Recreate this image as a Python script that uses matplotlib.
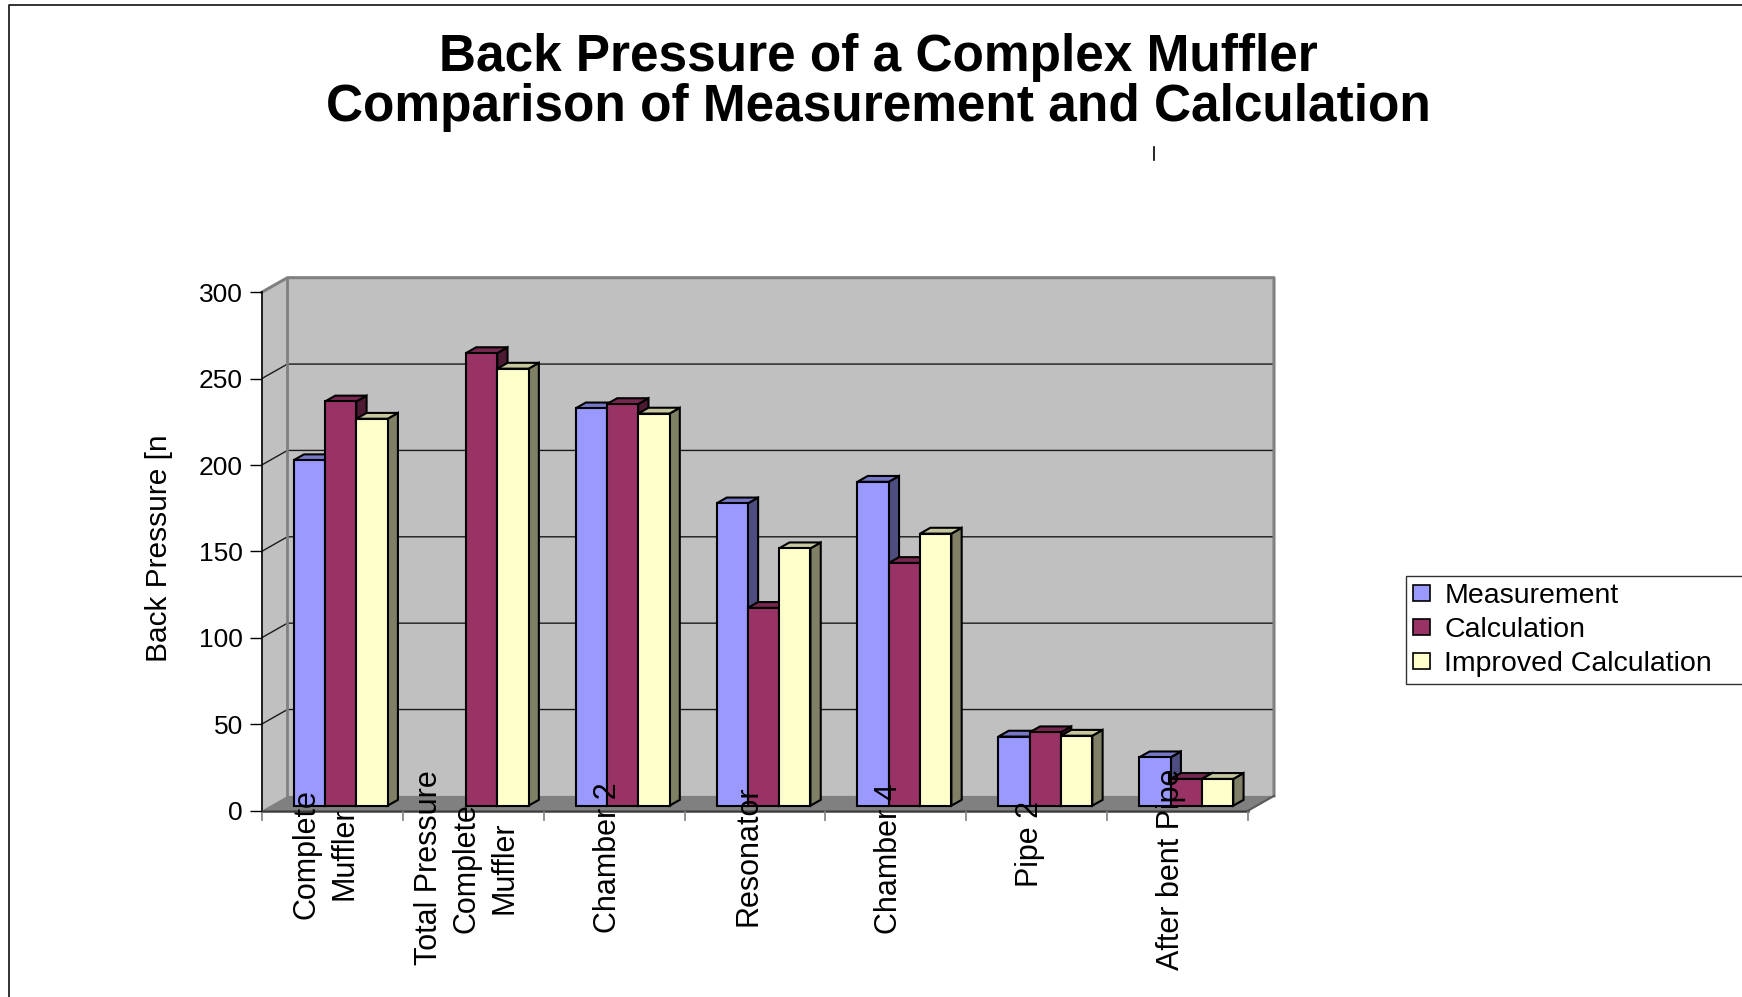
import numpy as np
import matplotlib
matplotlib.use("Agg")
import matplotlib.pyplot as plt
from matplotlib.patches import Polygon, Patch
from matplotlib.lines import Line2D
import matplotlib.transforms as mtransforms
import matplotlib.colors as mcolors

# ---- data -------------------------------------------------------------
categories = ["Complete\nMuffler", "Total Pressure\nComplete\nMuffler", "Chamber 2",
              "Resonator", "Chamber 4", "Pipe 2", "After bent Pipe"]
measurement = [200, np.nan, 230, 175, 187.5, 40, 28]
calculation = [234, 262, 232.5, 114.5, 140.5, 42.5, 15.5]
improved = [224, 253, 227, 149, 157.5, 40.5, 15.5]
series_names = ["Measurement", "Calculation", "Improved Calculation"]
y_ticks = [0, 50, 100, 150, 200, 250, 300]
title_lines = ["Back Pressure of a Complex Muffler",
               "Comparison of Measurement and Calculation"]
y_label = "Back Pressure [n"

# ---- figure / axes ----------------------------------------------------
W, H, DPI = 1742, 997, 100
plt.rcParams['font.family'] = ['Liberation Sans', 'DejaVu Sans']

fig = plt.figure(figsize=(W / DPI, H / DPI), dpi=DPI)
fig.patch.set_facecolor('white')

# front plane of the plot box, in pixels (y measured from the top)
x0px, x1px = 261.7, 1248.3
y0px, y1px = 810.5, 292.3
ax = fig.add_axes([x0px / W, 1 - y0px / H, (x1px - x0px) / W, (y0px - y1px) / H])
n = len(categories)
ymax = y_ticks[-1]
ax.set_xlim(0, n)
ax.set_ylim(0, ymax)
ax.patch.set_visible(False)

cat_px = (x1px - x0px) / n
val_px = (y0px - y1px) / ymax
# oblique depth offset of the back wall, in data units
DX = 25.7 / cat_px
DY = 14.6 / val_px

wall_c, floor_c, wall_edge = '#C0C0C0', '#808080', '#808080'

# walls and floor
ax.add_patch(Polygon([(DX, DY), (n + DX, DY), (n + DX, ymax + DY), (DX, ymax + DY)],
                     closed=True, fc=wall_c, ec='none', zorder=0.1, clip_on=False))
ax.add_patch(Polygon([(0, 0), (DX, DY), (DX, ymax + DY), (0, ymax)],
                     closed=True, fc=wall_c, ec='none', zorder=0.1, clip_on=False))
ax.add_patch(Polygon([(0, 0), (n, 0), (n + DX, DY), (DX, DY)],
                     closed=True, fc=floor_c, ec='none', zorder=0.2, clip_on=False))

# gridlines running over the side wall and the back wall
for yv in y_ticks[1:-1]:
    ax.plot([0, DX, n + DX], [yv, yv + DY, yv + DY], color='#1a1a1a', lw=1.0,
            zorder=0.3, clip_on=False, solid_capstyle='butt')

# wall outlines
ax.plot([0, DX, n + DX, n + DX], [ymax, ymax + DY, ymax + DY, DY],
        color=wall_edge, lw=2.2, zorder=0.35, clip_on=False)
ax.plot([DX, DX], [DY, ymax + DY], color=wall_edge, lw=2.0, zorder=0.35, clip_on=False)
ax.plot([n, n + DX], [0, DY], color='#5a5a5a', lw=1.5, zorder=0.35, clip_on=False)

# ---- 3-D columns --------------------------------------------------------
series = [measurement, calculation, improved]
face_colors = ['#9999FF', '#993366', '#FFFFCC']
top_k, side_k = 0.78, 0.5


def shade(c, k):
    return tuple(np.array(mcolors.to_rgb(c)) * k)


w = 1 / 4.5          # column width (gap width 150 %)
gap = 0.75 * w
f_front = 0.33       # depth position of the column fronts
f_depth = 0.40       # column depth
ex, ey = f_depth * DX, f_depth * DY
yb = f_front * DY
z = 1.0
for i in range(n):
    for j, vals in enumerate(series):
        v = vals[i]
        if np.isnan(v):
            continue
        xl = i + gap + j * w + f_front * DX
        xr = xl + w
        yt = v + yb
        ax.add_patch(Polygon([(xr, yb), (xr + ex, yb + ey), (xr + ex, yt + ey), (xr, yt)],
                             closed=True, fc=shade(face_colors[j], side_k), ec='black',
                             lw=1.5, joinstyle='miter', zorder=z, clip_on=False))
        ax.add_patch(Polygon([(xl, yt), (xr, yt), (xr + ex, yt + ey), (xl + ex, yt + ey)],
                             closed=True, fc=shade(face_colors[j], top_k), ec='black',
                             lw=1.5, joinstyle='miter', zorder=z + 0.01, clip_on=False))
        ax.bar(xl, v, width=w, bottom=yb, align='edge', color=face_colors[j],
               edgecolor='black', linewidth=1.5, zorder=z + 0.02, clip_on=False)
        z += 0.1

# ---- axes styling -------------------------------------------------------
for s in ('top', 'right'):
    ax.spines[s].set_visible(False)
ax.spines['left'].set_color('black')
ax.spines['left'].set_linewidth(1.2)
ax.spines['left'].set_zorder(0.4)
ax.spines['bottom'].set_color('#3c3c3c')
ax.spines['bottom'].set_linewidth(1.8)
ax.spines['bottom'].set_zorder(0.4)

ax.set_yticks(y_ticks)
ax.set_yticklabels([str(t) for t in y_ticks])
ax.tick_params(axis='y', direction='out', length=8.6, width=1.0, color='black',
               labelsize=19, pad=5)
ax.set_xticks(np.arange(n + 1))
ax.set_xticklabels([])
ax.tick_params(axis='x', direction='out', length=7, width=1.2, color='#808080')

ax.set_ylabel(y_label, fontsize=21.5, va='center')
ax.yaxis.set_label_coords((159 - x0px) / (x1px - x0px), (y0px - 548) / (y0px - y1px))

# category labels, written upwards across the floor
blend = mtransforms.blended_transform_factory(ax.transData, fig.transFigure)
cat_texts = []
for i, c in enumerate(categories):
    t = ax.text(i + 0.5 - 6.5 / cat_px, 0.15, c, rotation=90, ha='center', va='center',
                multialignment='center', fontsize=22, linespacing=1.33,
                transform=blend, zorder=50, clip_on=False)
    cat_texts.append(t)

fig.canvas.draw()
renderer = fig.canvas.get_renderer()
for t in cat_texts:
    L = t.get_window_extent(renderer).height
    yc = 825 + 0.22 * L
    t.set_y(1 - yc / H)

# ---- title --------------------------------------------------------------
fig.text(878 / W, 1 - 58 / H, title_lines[0], ha='center', va='center',
         fontsize=37, fontweight='bold')
fig.text(878 / W, 1 - 107 / H, title_lines[1], ha='center', va='center',
         fontsize=37, fontweight='bold')

# ---- legend (its box runs past the right edge of the chart area) --------
handles = [Patch(facecolor=c, edgecolor='black', linewidth=1.2) for c in face_colors]
leg_left, leg_top, leg_right, leg_bottom = 1406, 575.5, 1760, 681
leg = fig.legend(handles, series_names, loc='upper left', mode='expand',
                 bbox_to_anchor=(leg_left / W, 1 - leg_bottom / H,
                                 (leg_right - leg_left) / W, (leg_bottom - leg_top) / H),
                 bbox_transform=fig.transFigure,
                 frameon=True, fancybox=False, shadow=False, fontsize=20.5,
                 handlelength=0.58, handleheight=0.48, handletextpad=0.5,
                 borderpad=0.26, labelspacing=0.28, borderaxespad=0)
leg.get_frame().set_edgecolor('black')
leg.get_frame().set_linewidth(1.0)

# ---- chart-area border and small marker ---------------------------------
fig.add_artist(Line2D([9.3 / W, 9.3 / W, 1.0], [0.0, 1 - 5 / H, 1 - 5 / H],
                      transform=fig.transFigure, color='#222222', lw=1.3))
fig.add_artist(Line2D([1154 / W, 1154 / W], [1 - 147 / H, 1 - 160 / H],
                      transform=fig.transFigure, color='black', lw=1.2))

fig.savefig('out.png', dpi=DPI)
